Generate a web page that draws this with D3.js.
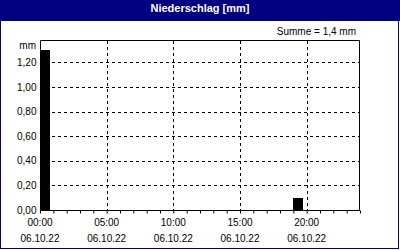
<!DOCTYPE html>
<html>
<head>
<meta charset="utf-8">
<script src="https://cdn.jsdelivr.net/npm/d3@7"></script>
<style>
  body { margin: 0; background: #fff; }
  text { font-family: "Liberation Sans", Arial, sans-serif; font-size: 10px; fill: #000; }
</style>
</head>
<body>
<svg width="400" height="250"></svg>
<script>
const width = 400;
const height = 250;

// data: hourly precipitation (hour start, mm)
const hours = [0, 19];
const values = [1.3, 0.1];
const yTicks = [0, 0.2, 0.4, 0.6, 0.8, 1.0, 1.2];
const xTicks = [0, 5, 10, 15, 20];
const xLabels = ["00:00", "05:00", "10:00", "15:00", "20:00"];
const dateLabel = "06.10.22";
const title = "Niederschlag [mm]";
const sumText = "Summe = 1,4 mm";

const svg = d3.select("svg");

// outer frame + title bar
svg.append("rect")
  .attr("x", 0.5).attr("y", 0.5)
  .attr("width", 398).attr("height", 248)
  .attr("fill", "#fff").attr("stroke", "#000080");
svg.append("rect")
  .attr("x", 0).attr("y", 0)
  .attr("width", 400).attr("height", 21)
  .attr("fill", "#000080");
svg.append("text")
  .attr("x", 200).attr("y", 12)
  .attr("text-anchor", "middle")
  .attr("font-weight", "bold")
  .style("font-size", "11px")
  .style("fill", "#fff")
  .text(title);

// scales
const x = d3.scaleLinear().domain([0, 24]).range([40, 360]);
const y = d3.scaleLinear().domain([0, 1.373]).range([210, 41]);
const fmt = d => d3.format(".2f")(d).replace(".", ",");

// grid
const grid = svg.append("g").attr("stroke", "#000").attr("stroke-dasharray", "3,3");
grid.selectAll(".hg")
  .data(yTicks.filter(d => d > 0))
  .enter().append("line")
  .attr("x1", 40).attr("x2", 360)
  .attr("y1", d => Math.round(y(d)) + 0.5)
  .attr("y2", d => Math.round(y(d)) + 0.5);
grid.selectAll(".vg")
  .data(xTicks.filter(d => d > 0))
  .enter().append("line")
  .attr("y1", 41).attr("y2", 210)
  .attr("x1", d => Math.round(x(d)) + 0.5)
  .attr("x2", d => Math.round(x(d)) + 0.5);

// bars
svg.selectAll(".bar")
  .data(hours)
  .enter().append("rect")
  .attr("x", d => Math.round(x(d)))
  .attr("width", d => Math.round(x(d + 0.75)) - Math.round(x(d)))
  .attr("y", (d, i) => Math.round(y(values[i])))
  .attr("height", (d, i) => 210 - Math.round(y(values[i])))
  .attr("fill", "#000");

// frame of plot (top and right), axes
svg.append("path")
  .attr("d", "M40.5,210V40.5H359.5V210")
  .attr("fill", "none").attr("stroke", "#000");

const yAxis = svg.append("g")
  .attr("transform", "translate(40.5,0)")
  .call(d3.axisLeft(y).tickValues(yTicks).tickSize(0).tickPadding(4).tickFormat(fmt));
yAxis.select(".domain").remove();
yAxis.selectAll("text").style("font-family", null).style("font-size", null);
yAxis.attr("font-family", null).attr("font-size", null);

svg.append("text")
  .attr("x", 36).attr("y", 49)
  .attr("text-anchor", "end")
  .text("mm");

const xAxis = svg.append("g")
  .attr("transform", "translate(0,210.5)")
  .call(d3.axisBottom(x).tickValues(d3.range(0, 25)).tickSize(3).tickSizeOuter(0).tickFormat(""));
xAxis.attr("font-family", null).attr("font-size", null);
xAxis.select(".domain").attr("d", "M40,0H360");

const lab = svg.append("g").selectAll("g")
  .data(xTicks)
  .enter().append("g");
lab.append("text")
  .attr("x", d => x(d)).attr("y", 226)
  .attr("text-anchor", "middle")
  .text((d, i) => xLabels[i]);
lab.append("text")
  .attr("x", d => x(d)).attr("y", 242)
  .attr("text-anchor", "middle")
  .text(dateLabel);

svg.append("text")
  .attr("x", 356).attr("y", 35)
  .attr("text-anchor", "end")
  .text(sumText);
</script>
</body>
</html>
